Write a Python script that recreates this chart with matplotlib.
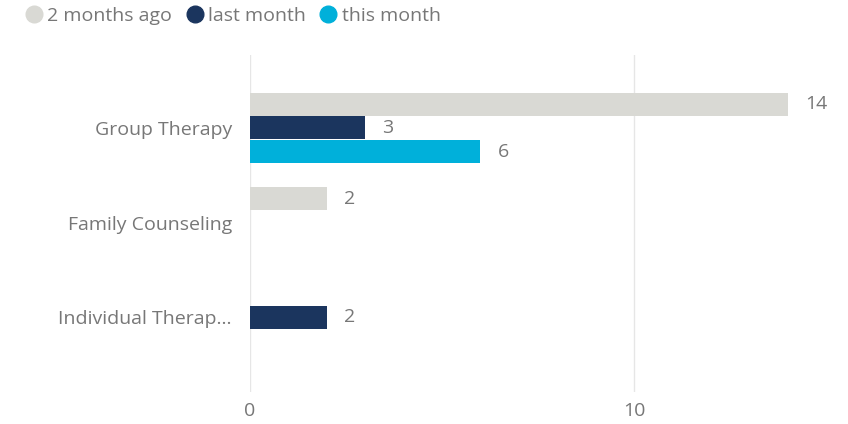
import matplotlib
matplotlib.use("Agg")
from matplotlib import pyplot as plt
from matplotlib.lines import Line2D
import numpy as np

categories = ["Group Therapy", "Family Counseling", "Individual Therap..."]
series_names = ["2 months ago", "last month", "this month"]
two_months_ago = [14, 2, None]
last_month = [3, None, 2]
this_month = [6, None, None]
series_values = [two_months_ago, last_month, this_month]
colors = ["#D9D9D4", "#1B355E", "#00B0DA"]
x_ticks = [0, 10]

TEXT = "#777777"
FS = 14
plt.rcParams["font.family"] = ["Open Sans", "DejaVu Sans"]

fig = plt.figure(figsize=(8.48, 4.24), dpi=100)
ax = fig.add_axes([250 / 848, 1 - 392 / 424, 595 / 848, 337 / 424])

bh = 0.25
y = np.arange(len(categories))
for i, (vals, col) in enumerate(zip(series_values, colors)):
    for j, v in enumerate(vals):
        if v is None:
            continue
        yy = y[j] + (i - 1) * bh
        ax.barh(yy, v, height=bh * 0.98, color=col, zorder=3)
        ax.annotate(str(v), (v, yy), xytext=(12.5, 0), textcoords="offset points",
                    va="center", ha="left", fontsize=FS, color=TEXT)

ax.set_xlim(0, 595 / 38.4)
ax.set_ylim(2.79, -0.77)
ax.set_yticks(y)
ax.set_yticklabels(categories, fontsize=FS, color=TEXT)
ax.set_xticks(x_ticks)
ax.set_xticklabels([str(t) for t in x_ticks], fontsize=FS, color=TEXT)
ax.tick_params(length=0)
ax.tick_params(axis="x", pad=7)
ax.tick_params(axis="y", pad=13)
for s in ax.spines.values():
    s.set_visible(False)
ax.grid(axis="x", color="#E6E6E6", linewidth=1, zorder=0)

handles = [Line2D([], [], marker="o", linestyle="", markersize=12, color=c)
           for c in colors]
fig.legend(handles, series_names, loc="upper left", bbox_to_anchor=(0.003, 1.025),
           ncol=3, frameon=False, fontsize=FS, labelcolor=TEXT,
           handletextpad=0.0, columnspacing=0.45, handlelength=1.4)

fig.savefig("out.png", dpi=100)
